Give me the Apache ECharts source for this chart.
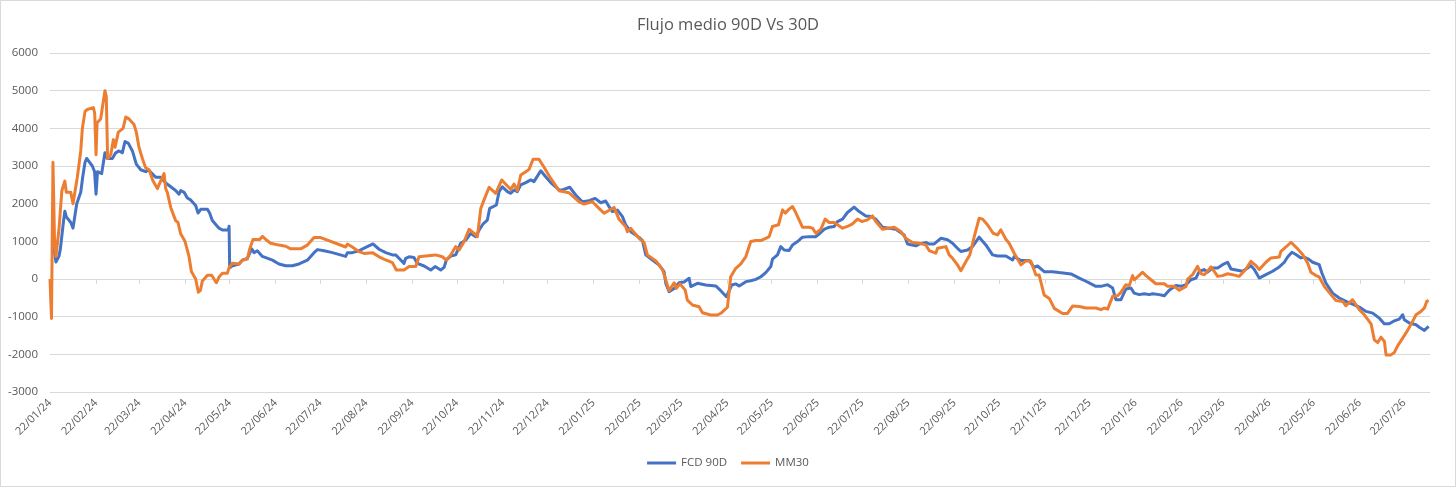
<!DOCTYPE html>
<html>
<head>
<meta charset="utf-8">
<script src="https://cdn.jsdelivr.net/npm/echarts@6/dist/echarts.min.js"></script>
<style>
html,body{margin:0;padding:0;background:#fff;}
#c{width:1456px;height:488px;}
</style>
</head>
<body>
<div id="c"></div>
<script>
// x values: days after 22/01/24
const startDate = '2024-01-22';
const lastDay = 929.3;
const tickLabels = ['22/01/24','22/02/24','22/03/24','22/04/24','22/05/24','22/06/24','22/07/24','22/08/24','22/09/24','22/10/24','22/11/24','22/12/24',
  '22/01/25','22/02/25','22/03/25','22/04/25','22/05/25','22/06/25','22/07/25','22/08/25','22/09/25','22/10/25','22/11/25','22/12/25',
  '22/01/26','22/02/26','22/03/26','22/04/26','22/05/26','22/06/26','22/07/26'];

const fcdDays = [2,4,6,7,9,10,11,14,15.5,16.5,18,20.7,22,23.6,24.7,28.5,30,31,32,34.8,37,38.6,42,44.2,46.5,48.7,50.5,52.8,55.5,58.1,61.1,64.4,66.2,71.2,74.5,77.9,81.3,84.6,86.9,88,90.3,92.5,94.7,98.1,99.7,101.5,106,107.5,109.3,113.8,116.1,120.1,120.6,121,122.8,127.3,129.5,132.9,135.8,137.4,139.6,143,149.8,154.2,158.7,163.2,167.7,173.3,177.8,180.1,184.6,190.2,199.1,200.3,203.6,
  208,212.6,217.5,221.6,226.1,230.6,232.8,235,238.4,239.5,241.8,245.1,247.4,251.9,256.4,259.3,263.1,265.4,266.9,269.9,273.2,276.6,280,283.3,286.7,289,291.6,294.5,296.1,300.6,302.4,304.6,308,310.3,312.5,314.7,317,320.4,323.7,325.9,330.5,333.8,337.2,342.8,345,350,354,358.5,363,367.1,370.9,374.2,376.5,378.7,382.1,385.5,387.7,391.1,396.7,399,401.2,405.7,410.2,413.5,414.7,416.9,420.3,423.6,427,430.4,431.5,436,441.6,448.3,451.7,455.5,
  459.1,461.8,464.1,468.6,471.9,475.3,478.7,482,485.4,486.5,489.9,492.1,494.4,497.7,500,503.4,506.7,511.2,515.7,518,521.3,524.7,528.1,530.3,533.7,537,541.5,544.9,549.4,552.8,556.1,560.6,565.1,569.6,575.2,577.5,583.1,585.3,590.1,590.9,592,595.4,599.9,604.4,607.8,611.1,613.4,617.9,621.2,625.7,630.2,634.7,638.1,643.7,648.2,649.3,653.8,659.4,662.8,665,669.5,675.1,679.6,687.5,
  693.1,697.6,704.3,707.7,712.2,715.6,717.8,721.2,724.5,727.9,730.1,733.5,736.9,740.2,742.5,747,750.4,753.7,758.2,761.6,765,768.3,771.7,773.9,777.3,779.5,782.9,786.3,789.6,793,795.3,799.7,803.1,806.5,808.7,811,814.3,818.8,823.3,827.8,831.2,833.4,836.3,839,842.4,844.6,848,850.3,854.7,856.5,859.2,863.7,868.2,872.7,878.3,881.7,886.2,890.7,895.2,898.5,901.9,905.3,908.6,910.9,912,915.4,919.9,922.1,925.5,928.4];
const fcdValues = [1000,450,600,800,1500,1800,1650,1500,1350,1400,2000,2300,2700,3100,3200,3000,2850,2250,2850,2800,3350,3200,3200,3350,3400,3350,3650,3600,3400,3050,2900,2850,2900,2700,2700,2550,2450,2350,2250,2350,2300,2150,2100,1950,1750,1850,1850,1750,1550,1350,1300,1300,1400,300,350,400,500,550,800,700,750,600,500,400,350,350,400,500,700,780,750,700,600,700,700,
  750,840,930,790,700,640,640,550,415,550,590,570,415,345,240,330,240,310,505,610,640,950,1035,1210,1125,1300,1460,1565,1875,1965,2320,2450,2320,2275,2365,2320,2500,2560,2630,2585,2875,2715,2560,2365,2365,2435,2230,2050,2080,2140,2025,2070,1920,1790,1830,1655,1435,1255,1105,1020,640,505,370,195,-115,-335,-250,-100,-80,20,-200,-115,-160,-185,-310,-470,
  -160,-130,-185,-70,-45,-10,60,170,330,525,640,860,770,755,905,995,1110,1125,1125,1200,1320,1375,1395,1525,1590,1765,1910,1790,1675,1660,1590,1375,1350,1320,1170,930,880,925,970,1020,930,930,1080,1040,950,815,730,770,860,1110,905,640,610,610,505,595,490,490,310,345,195,195,170,135,
  25,-60,-195,-195,-150,-240,-550,-550,-265,-240,-375,-415,-390,-415,-390,-415,-445,-300,-175,-195,-150,-20,25,205,250,180,295,295,380,445,265,230,205,295,355,250,25,115,205,320,445,585,710,650,560,585,515,445,380,160,-105,-375,-505,-595,-685,-745,-860,-905,-1040,-1190,-1190,-1110,-1065,-950,-1080,-1170,-1215,-1280,-1365,-1260];

const mm30Days = [0,1,2,3,4,6,8,9,10,11,14,15.5,16.6,18.4,20.7,21.8,23.6,25.1,29.2,30.1,31,31.7,34.1,37,37.9,38.8,40.9,42.7,43.8,46,49.2,51,53.2,56.6,58.1,59.9,62.2,64.4,66.7,69.4,72.3,74.5,76.8,77.9,79,81.3,84.6,86.2,88,90.9,93.6,95.2,98.1,99.9,101.3,102.6,106,108.9,112,113.8,116.1,119.4,120.6,122.8,127.3,129.5,132.9,134.5,136.7,139.6,141.2,143,145.3,148.6,154.2,158.7,162.1,168.8,173.3,177.8,178.9,182.3,199.1,200.3,203.6,
  208.1,211.5,217.1,221.6,226.1,230.6,233.2,238.4,241.8,246.3,248.5,253,259.7,264.2,266.9,269.9,273.2,275.5,278.8,282.2,285.6,287.8,290.1,292.3,295.7,300.2,301.3,304.2,308,310.3,312.5,314.7,317,320.4,322.6,325.3,329.3,332.7,337.2,342.8,349.5,356.3,359.6,365.3,369.7,373.1,379.8,383.2,387.7,388.8,391.1,396.7,400.1,402.3,408,412.4,414.7,416.9,420.3,421.8,424.3,427.7,429.2,432.6,437.1,439.4,445,449.5,451.7,456.2,458.4,
  461.8,465.2,468.6,471.9,475.3,478.7,482,484.3,486.5,490.6,493.3,495.1,497.7,500,502.2,506.7,511.2,513.5,515.7,519.1,522,524.7,528.1,533.7,537,540.4,543.8,546.7,550.5,553.9,556.1,560.6,568.5,573,576.3,580.8,585.3,589.8,592,596.5,597.7,603.3,605.5,607.8,611.1,613.4,616.7,619.4,622.4,625.7,628,631.3,635.1,638.1,640.3,643.7,645.9,649.3,653.8,657.2,660.5,663.9,666.1,669.5,672.9,676.3,681.9,685.2,688.6,
  693.1,697.6,704.3,707.7,709.9,712.2,715.6,718.9,721.2,724.5,726.8,729,730.1,732.4,735.8,738,741.4,744.7,750.4,752.6,757.1,760.5,765,766.1,769.4,772.8,775.1,777.3,779.5,781.8,784,786.3,789.6,793,796.4,800.9,805.4,808.7,812.1,814.3,818.8,822.2,827.8,828.9,832.3,835.7,840.2,843.5,846.9,849.1,852.5,854.7,858.1,862.6,866,870.5,872.7,877.2,881.7,885.1,889.6,891.8,894.1,896.3,898.6,899.7,903,905.3,907.5,910.9,914.2,917.6,919.9,923.2,925.5,927.1,928.4];
const mm30Values = [0,-1050,3100,1100,600,1300,2350,2300,2600,2300,2300,2000,2000,2700,3400,4000,4450,4500,4550,4400,3300,4150,4250,5000,4850,3200,3300,3700,3500,3900,4000,4300,4250,4100,3900,3500,3200,2950,2900,2600,2400,2600,2800,2400,2300,1900,1550,1500,1200,1000,600,200,0,-350,-300,-50,100,100,-100,50,150,150,300,420,400,500,530,800,1050,1050,1050,1130,1050,950,900,870,800,800,900,1100,1150,1100,850,930,850,
  725,680,700,590,505,435,240,240,330,330,590,610,640,590,505,640,860,770,990,1320,1210,1125,1875,2100,2435,2275,2230,2630,2470,2380,2520,2345,2760,2850,2910,3180,3180,2965,2670,2345,2290,2050,1990,2050,1875,1745,1900,1585,1390,1255,1345,1080,965,640,480,255,-25,-310,-100,-250,-130,-290,-560,-690,-735,-895,-955,-955,-910,-750,60,
  285,400,595,995,1020,1020,1080,1125,1395,1440,1835,1750,1855,1925,1765,1375,1375,1350,1215,1320,1590,1500,1500,1350,1395,1465,1590,1525,1570,1675,1525,1320,1375,1260,1080,970,950,905,755,685,815,860,640,550,375,220,460,640,1125,1615,1590,1440,1215,1170,1305,1055,950,685,375,480,480,105,105,-425,-515,-780,-915,-915,-720,
  -730,-770,-770,-815,-770,-800,-460,-445,-355,-150,-175,90,-20,55,180,90,-20,-125,-125,-195,-195,-300,-195,0,115,335,140,115,205,320,205,70,90,140,115,70,265,470,355,250,445,560,585,735,850,975,800,650,425,180,90,55,-195,-415,-570,-595,-710,-550,-815,-950,-1190,-1615,-1685,-1545,-1660,-2015,-2015,-1950,-1775,-1570,-1365,-1125,-950,-860,-770,-595,-570];

const DAY = 86400000;
const sp = startDate.split('-').map(Number);
const t0 = Date.UTC(sp[0], sp[1]-1, sp[2]);
const tickDays = tickLabels.map(s => { const q = s.split('/').map(Number); return Math.round((Date.UTC(2000+q[2], q[1]-1, q[0]) - t0) / DAY); });
const pad = n => (n < 10 ? '0' : '') + n;
const fmt = v => { const d = new Date(t0 + Math.round(v) * DAY); return pad(d.getUTCDate()) + '/' + pad(d.getUTCMonth()+1) + '/' + pad(d.getUTCFullYear() % 100); };

const FONT = 'Open Sans';
const chart = echarts.init(document.getElementById('c'));
chart.setOption({
  animation: false,
  backgroundColor: '#fff',
  textStyle: { fontFamily: FONT },
  title: {
    text: 'Flujo medio 90D Vs 30D', left: 'center', top: 12,
    textStyle: { fontFamily: FONT, fontSize: 16.5, fontWeight: 'normal', color: '#595959' }
  },
  legend: {
    bottom: 14, left: 'center', itemWidth: 29, itemHeight: 3, itemGap: 14, icon: 'rect',
    textStyle: { fontFamily: FONT, fontSize: 11.5, color: '#595959' },
    data: ['FCD 90D', 'MM30']
  },
  grid: { left: 50, right: 26, top: 53, bottom: 96, containLabel: false },
  graphic: [{ type: 'rect', shape: { x: 0.5, y: 0.5, width: 1455, height: 486 }, style: { fill: 'none', stroke: '#D9D9D9', lineWidth: 1 }, silent: true }],
  xAxis: [{
    type: 'value', min: 0, max: lastDay,
    axisLine: { show: false, onZero: false },
    axisTick: { show: false },
    splitLine: { show: false },
    axisLabel: {
      customValues: tickDays, rotate: 45, margin: 9,
      color: '#595959', fontFamily: FONT, fontSize: 11,
      formatter: v => fmt(v)
    }
  }, {
    type: 'value', min: 0, max: lastDay, position: 'bottom',
    axisLine: { show: true, onZero: true, lineStyle: { color: '#D9D9D9', width: 1 } },
    axisTick: { show: true, customValues: tickDays, length: 5, lineStyle: { color: '#D9D9D9' } },
    axisLabel: { show: false },
    splitLine: { show: false }
  }],
  yAxis: {
    type: 'value', min: -3000, max: 6000, interval: 1000,
    axisLine: { show: false }, axisTick: { show: false },
    axisLabel: { color: '#595959', fontFamily: FONT, fontSize: 11.5, margin: 12, formatter: v => String(v) },
    splitLine: { lineStyle: { color: '#D9D9D9', width: 1 } }
  },
  series: [{
    name: 'FCD 90D', type: 'line', xAxisIndex: 0, showSymbol: false, symbol: 'none',
    color: '#4472C4', lineStyle: { width: 3, color: '#4472C4', join: 'round' },
    data: fcdDays.map((d, i) => [d, fcdValues[i]])
  }, {
    name: 'MM30', type: 'line', xAxisIndex: 0, showSymbol: false, symbol: 'none',
    color: '#ED7D31', lineStyle: { width: 3, color: '#ED7D31', join: 'round' },
    data: mm30Days.map((d, i) => [d, mm30Values[i]])
  }]
});
</script>
</body>
</html>
